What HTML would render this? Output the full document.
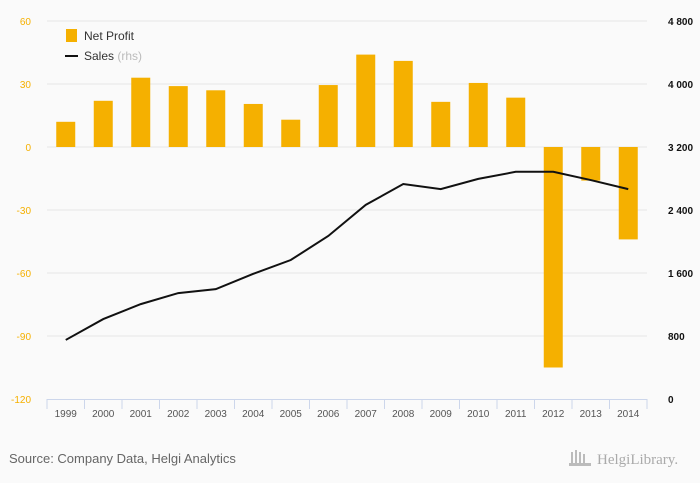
<!DOCTYPE html>
<html><head><meta charset="utf-8"><style>
body{margin:0;background:#fafafa;font-family:"Liberation Sans",sans-serif}
</style></head><body>
<svg id="chart" width="700" height="483" xmlns="http://www.w3.org/2000/svg" style="display:block">
<rect width="700" height="483" fill="#fafafa"/>
<g id="grid"></g><g id="bars"></g><g id="line"></g><g id="axes"></g>
<g>
<rect x="66" y="29" width="11" height="13" fill="#f5b000"/>
<text x="84" y="40" font-size="12" fill="#333">Net Profit</text>
<line x1="65" y1="56" x2="78" y2="56" stroke="#111" stroke-width="2"/>
<text x="84" y="60" font-size="12" fill="#333">Sales <tspan fill="#bbb">(rhs)</tspan></text>
</g>
<text x="9" y="463" font-size="13" fill="#666">Source: Company Data, Helgi Analytics</text>
<text x="597" y="464" font-size="15" fill="#aaa" font-family="Liberation Serif,serif">HelgiLibrary.</text>
<g fill="#bbb"><rect x="571" y="452" width="2" height="12"/><rect x="575" y="450" width="2" height="14"/><rect x="579" y="452" width="2" height="12"/><rect x="583" y="454" width="2" height="10"/><rect x="569" y="463" width="22" height="3"/></g>
</svg>
<script>
const categories=["1999","2000","2001","2002","2003","2004","2005","2006","2007","2008","2009","2010","2011","2012","2013","2014"];
const netProfit=[12,22,33,29,27,20.5,13,29.5,44,41,21.5,30.5,23.5,-105,-16,-44];
const sales=[750,1015,1205,1345,1395,1590,1765,2070,2465,2730,2665,2795,2885,2885,2780,2665];
const leftTicks=[60,30,0,-30,-60,-90,-120];
const rightTicks=["4 800","4 000","3 200","2 400","1 600","800","0"];
const rightTickVals=[4800,4000,3200,2400,1600,800,0];
const NS="http://www.w3.org/2000/svg";
const x0=47,x1=647,yTop=21,yBot=399;
const step=(x1-x0)/categories.length;
const xC=i=>x0+step*(i+0.5);
const yL=v=>yTop+(60-v)/180*(yBot-yTop);
const yR=v=>yBot-v/4800*(yBot-yTop);
function mk(t,a,p){const e=document.createElementNS(NS,t);for(const k in a)e.setAttribute(k,a[k]);p.appendChild(e);return e;}
const grid=document.getElementById('grid'),axes=document.getElementById('axes');
leftTicks.forEach((v,i)=>{
  const y=yL(v);
  if(i<leftTicks.length-1){const g=mk('line',{x1:x0,x2:x1,y1:y,y2:y,stroke:'#e6e6e6'},grid);
  
  }
  const t=mk('text',{x:31,y:y+4,'font-size':10,fill:'#f5b000','text-anchor':'end'},axes);t.textContent=v;
  
  
});
rightTickVals.forEach((v,i)=>{
  const t=mk('text',{x:668,y:yR(v)+4,'font-size':10,fill:'#111','font-weight':'bold'},axes);t.textContent=rightTicks[i];
  
  
});
const ax=mk('line',{x1:x0,x2:x1,y1:yBot+0.5,y2:yBot+0.5,stroke:'#ccd6eb'},axes);


for(let i=0;i<=categories.length;i++){const x=x0+step*i;mk('line',{x1:x,x2:x,y1:yBot,y2:yBot+10,stroke:'#ccd6eb'},axes);}
categories.forEach((c,i)=>{const t=mk('text',{x:xC(i),y:417,'font-size':10,fill:'#555','text-anchor':'middle'},axes);t.textContent=c;
  
  });
const bars=document.getElementById('bars');
netProfit.forEach((v,i)=>{
  const y=Math.min(yL(v),yL(0)),h=Math.abs(yL(v)-yL(0));
  const r=mk('rect',{x:xC(i)-9.5,y:y,width:19,height:h,fill:'#f5b000'},bars);
  
  
});
const pts=sales.map((v,i)=>xC(i)+','+yR(v)).join(' ');
const pl=mk('polyline',{points:pts,fill:'none',stroke:'#111','stroke-width':2},document.getElementById('line'));


</script>
</body></html>
